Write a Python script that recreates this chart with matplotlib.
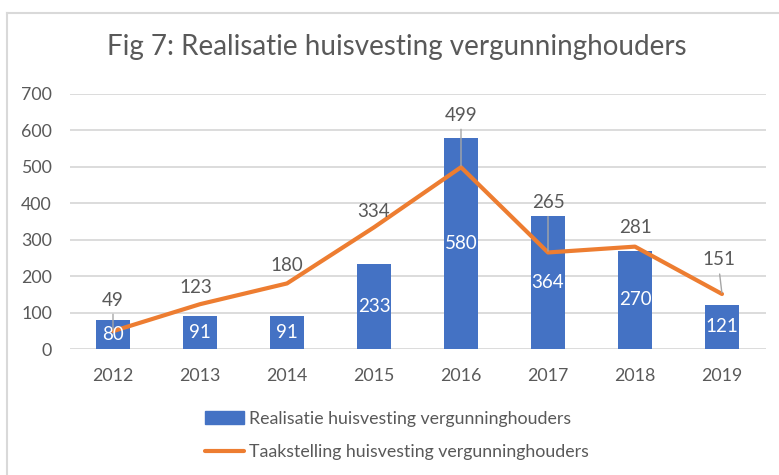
import matplotlib.pyplot as plt
from matplotlib.lines import Line2D
from matplotlib.patches import Patch

plt.rcParams['font.family'] = ['Lato', 'DejaVu Sans']

# Data.
years = ['2012', '2013', '2014', '2015', '2016', '2017', '2018', '2019']
realisatie = [80, 91, 91, 233, 580, 364, 270, 121]
taakstelling = [49, 123, 180, 334, 499, 265, 281, 151]

# Label offsets (pixels) for the target series, and whether a leader line is drawn.
label_offsets = [(0, 31), (-4, 17), (0, 18), (0, 16), (0, 52), (0, 50), (0, 19), (-3, 34)]
leaders = [True, False, False, False, True, True, False, True]

BLUE = '#4472C4'
ORANGE = '#ED7D31'
TEXT = '#595959'
GRID = '#D9D9D9'

fig = plt.figure(figsize=(7.79, 4.75), dpi=100)
ax = fig.add_axes([69.5 / 779, 1 - 349 / 475, 696 / 779, 255 / 475])

x = range(len(years))
ax.bar(x, realisatie, width=0.4, color=BLUE, zorder=2)
ax.plot(x, taakstelling, color=ORANGE, lw=3, solid_capstyle='round',
        solid_joinstyle='round', zorder=3)

# Bar labels, centred in each bar.
for xi, v in zip(x, realisatie):
    ax.text(xi, v / 2, str(v), ha='center', va='center', color='white',
            fontsize=13.5, zorder=4)

# Line labels above the points.
for xi, v, (dx, dy), lead in zip(x, taakstelling, label_offsets, leaders):
    arrow = None
    if lead:
        arrow = dict(arrowstyle='-', color='#A6A6A6', lw=1, relpos=(0.5, 0),
                     shrinkA=2, shrinkB=1)
    ax.annotate(str(v), (xi, v), xytext=(dx, dy), textcoords='offset pixels',
                ha='center', va='center', color=TEXT, fontsize=13.5,
                arrowprops=arrow, zorder=4)

ax.set_xlim(-0.5, len(years) - 0.5)
ax.set_ylim(0, 700)
ax.set_yticks(range(0, 701, 100))
ax.set_xticks(list(x))
ax.set_xticklabels(years)
ax.tick_params(axis='both', length=0, labelsize=12.8, colors=TEXT)
ax.tick_params(axis='y', pad=12.6)
ax.tick_params(axis='x', pad=13.5)
ax.yaxis.grid(True, color=GRID, lw=1.3, zorder=0)
ax.set_axisbelow(True)
for s in ax.spines.values():
    s.set_visible(False)

fig.text(397 / 779, 1 - 47 / 475, 'Fig 7: Realisatie huisvesting vergunninghouders',
         ha='center', va='center', fontsize=20, color=TEXT)

handles = [Patch(color=BLUE), Line2D([], [], color=ORANGE, lw=3, solid_capstyle='round')]
fig.legend(handles, ['Realisatie huisvesting vergunninghouders',
                     'Taakstelling huisvesting vergunninghouders'],
           loc='center', bbox_to_anchor=(397 / 779, 1 - 435.5 / 475), frameon=False,
           fontsize=12.8, labelcolor=TEXT, handlelength=2.2, labelspacing=1.0,
           handletextpad=0.3)

# Outer chart frame: only top and left edges are visible.
fig.add_artist(Line2D([7 / 779, 7 / 779], [0, 1 - 13 / 475], color=GRID, lw=1.5,
                      transform=fig.transFigure))
fig.add_artist(Line2D([7 / 779, 1], [1 - 13 / 475, 1 - 13 / 475], color=GRID, lw=1.5,
                      transform=fig.transFigure))

fig.savefig('out.png', dpi=100)
